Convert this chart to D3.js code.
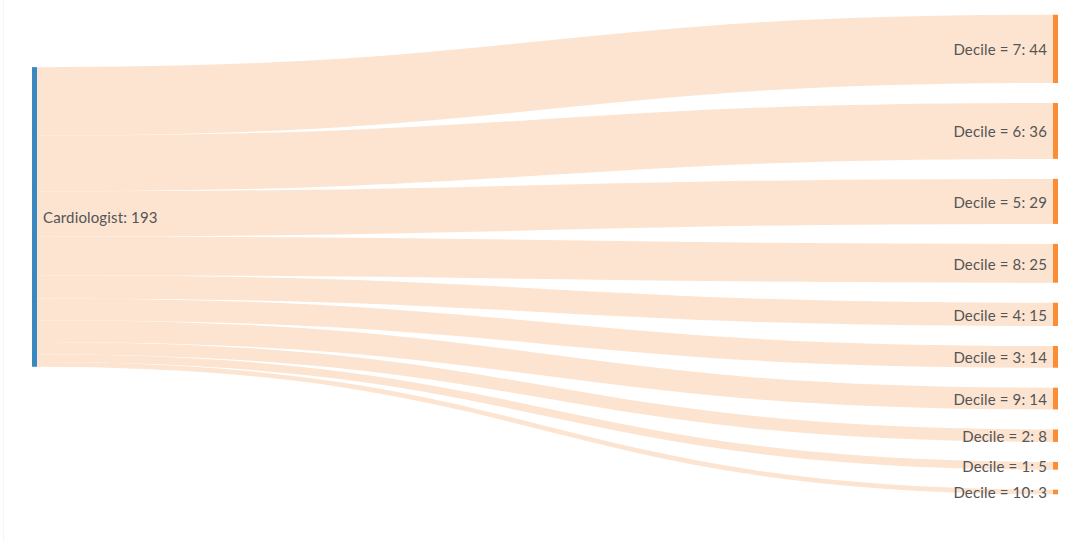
<!DOCTYPE html>
<html>
<head>
<meta charset="utf-8">
<script src="https://cdn.jsdelivr.net/npm/d3@7"></script>
<style>
  html, body { margin: 0; padding: 0; background: #fff; }
  svg { display: block; }
  text { font-family: Lato, "Open Sans", sans-serif; letter-spacing: 0.15px; }
</style>
</head>
<body>
<svg id="chart" width="1089" height="541"></svg>
<script>
// ---- data ----
const sourceName = "Cardiologist";
const targetNames = ["Decile = 7", "Decile = 6", "Decile = 5", "Decile = 8", "Decile = 4",
                     "Decile = 3", "Decile = 9", "Decile = 2", "Decile = 1", "Decile = 10"];
const targetValues = [44, 36, 29, 25, 15, 14, 14, 8, 5, 3];

// ---- layout ----
const W = 1089, H = 541;
const nodeWidth = 5;
const x0 = 32, x1 = 1058;
const y0 = 14.7, y1 = 494.3;
const padding = 20;

const svg = d3.select("#chart");

// faint left border
svg.append("line").attr("x1", 3.5).attr("x2", 3.5).attr("y1", 0).attr("y2", H)
  .attr("stroke", "#f5f5f5").attr("stroke-width", 1);

const total = d3.sum(targetValues);
const ky = (y1 - y0 - (targetValues.length - 1) * padding) / total;
const h = d3.scaleLinear().domain([0, total]).range([0, total * ky]);
const xs = d3.scaleLinear().domain([0, 1]).range([x0, x1 - nodeWidth]);

// target nodes
let yc = y0;
const targets = targetNames.map((n, i) => {
  const t = { name: n, value: targetValues[i], y0: yc, y1: yc + h(targetValues[i]) };
  yc = t.y1 + padding;
  return t;
});
// source node centered on weighted target centers
const center = d3.sum(targets, t => t.value * (t.y0 + t.y1) / 2) / total;
const source = { name: sourceName, value: total, y0: center - h(total) / 2, y1: center + h(total) / 2 };

// links
let sy = source.y0;
const links = targets.map(t => {
  const w = h(t.value);
  const l = { width: w, sy: sy + w / 2, ty: (t.y0 + t.y1) / 2 };
  sy += w;
  return l;
});

const linkGen = d3.linkHorizontal();
svg.append("g").selectAll("path").data(links).join("path")
  .attr("d", d => linkGen({ source: [xs(0) + nodeWidth, d.sy], target: [xs(1), d.ty] }))
  .attr("fill", "none")
  .attr("stroke", "#fce4d0")
  .attr("stroke-width", d => d.width);

// nodes
svg.append("rect")
  .attr("x", xs(0)).attr("y", source.y0).attr("width", nodeWidth).attr("height", source.y1 - source.y0)
  .attr("fill", "#3a88c0");
svg.append("g").selectAll("rect").data(targets).join("rect")
  .attr("x", xs(1)).attr("y", d => d.y0).attr("width", nodeWidth).attr("height", d => d.y1 - d.y0)
  .attr("fill", "#fb8e35");

// labels
svg.append("text")
  .attr("x", xs(0) + nodeWidth + 6).attr("y", center + 1).attr("dy", "0.35em")
  .attr("font-size", 15).attr("fill", "#555")
  .text(`${source.name}: ${source.value}`);
svg.append("g").selectAll("text").data(targets).join("text")
  .attr("x", xs(1) - 6).attr("y", d => (d.y0 + d.y1) / 2 + 1).attr("dy", "0.35em")
  .attr("text-anchor", "end").attr("font-size", 15).attr("fill", "#555")
  .text(d => `${d.name}: ${d.value}`);
</script>
</body>
</html>
